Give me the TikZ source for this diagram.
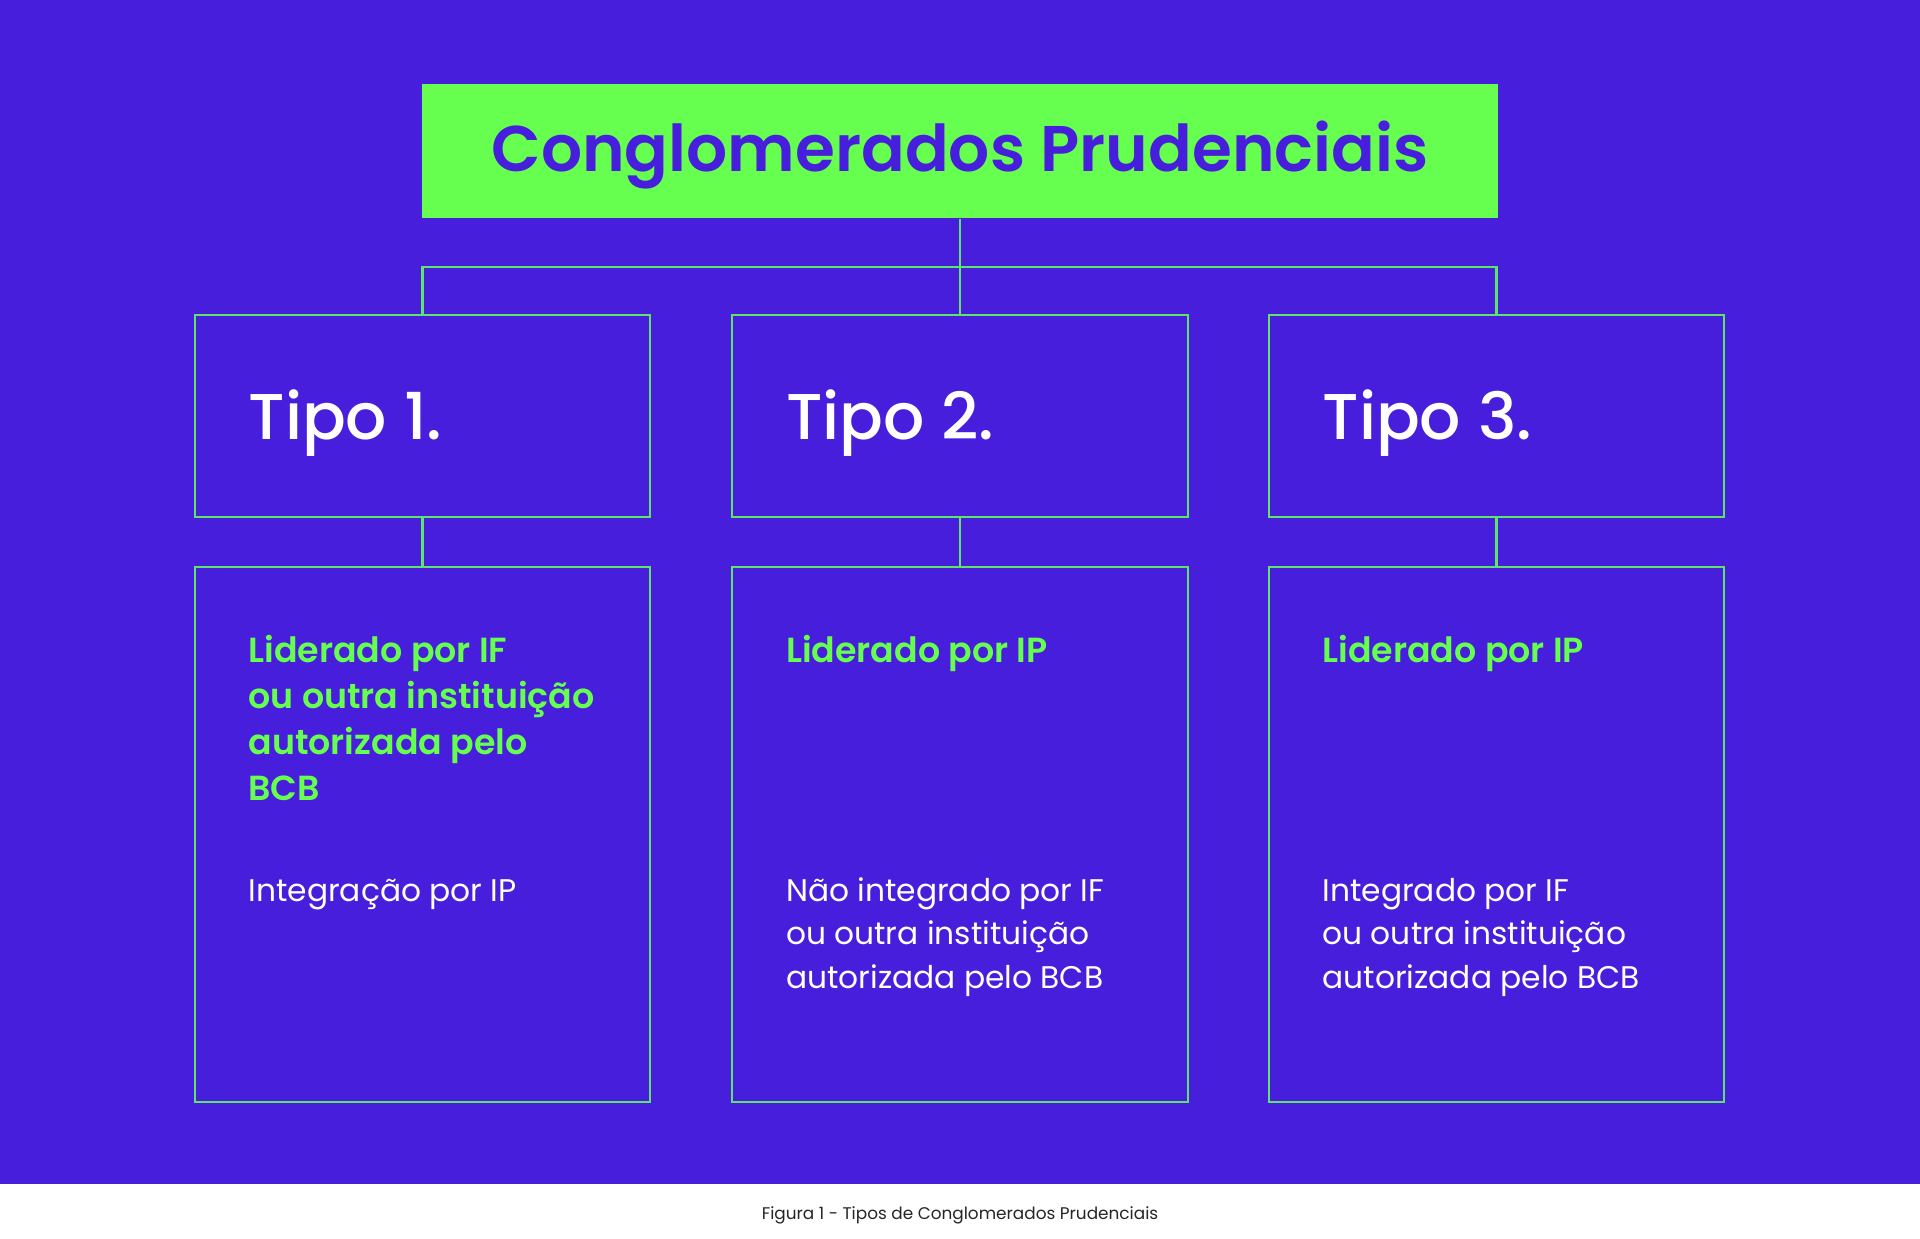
\documentclass[tikz,border=0pt]{standalone}
\usepackage{fontspec}
\setmainfont{Poppins}[BoldFont={Poppins SemiBold}]
\newfontfamily\tipofont{Poppins Medium}
\usetikzlibrary{positioning}
\definecolor{bgpurple}{HTML}{461EDB}
\definecolor{limegreen}{HTML}{66FF4F}
\definecolor{edgegreen}{HTML}{5CE46C}
\tikzset{tipobox/.style={draw=edgegreen,line width=0.6pt,minimum width=4.55cm,minimum height=2.02cm,inner sep=0pt}}
\tikzset{descbox/.style={draw=edgegreen,line width=0.6pt,minimum width=4.55cm,minimum height=5.35cm,inner sep=0pt}}
\tikzset{link/.style={draw=edgegreen,line width=0.6pt}}
\tikzset{tipotext/.style={anchor=base west,inner sep=0pt,text=white,font=\tipofont\fontsize{18.4}{22}\selectfont}}
\tikzset{leadtext/.style={anchor=base west,inner sep=0pt,align=left,text=limegreen,font=\bfseries\fontsize{9.9}{13.1}\selectfont}}
\tikzset{bodytext/.style={anchor=base west,inner sep=0pt,align=left,text=white,font=\fontsize{8.9}{12.4}\selectfont}}

\begin{document}
\begin{tikzpicture}[x=0.01cm,y=-0.01cm]
	% page and background
	\fill [white] (0,0) rectangle (1920,1238);
	\fill [bgpurple] (0,0) rectangle (1920,1184);

	\node [fill=limegreen,minimum width=10.76cm,minimum height=1.335cm,inner sep=0pt] (title) at (960,151) {};
	\node [anchor=base,inner sep=0pt,text=bgpurple,font=\bfseries\fontsize{18.35}{22}\selectfont] (titletext) at (960,171.5) {Conglomerados Prudenciais};
	\coordinate (hub) at (960,267);

	\node [tipobox] (tipo1) at (422.5,416) {};
	\node [tipobox] (tipo2) at (960,416) {};
	\node [tipobox] (tipo3) at (1496.5,416) {};
	\node [descbox] (desc1) at (422.5,834.5) {};
	\node [descbox] (desc2) at (960,834.5) {};
	\node [descbox] (desc3) at (1496.5,834.5) {};

	\draw [link] (title.south) -- (hub);
	\draw [link] (tipo1.north) |- (hub) -| (tipo3.north);
	\draw [link] (hub) -- (tipo2.north);
	\foreach \i in {1,2,3}
		\draw [link] (tipo\i.south) -- (desc\i.north);

	\node [tipotext] (tipolabel1) at ([shift={(54,126)}]tipo1.north west) {Tipo 1.};
	\node [tipotext] (tipolabel2) at ([shift={(54,126)}]tipo2.north west) {Tipo 2.};
	\node [tipotext] (tipolabel3) at ([shift={(54,126)}]tipo3.north west) {Tipo 3.};

	% multi-line nodes sit on the baseline of their last line
	\node [leadtext] (lead1) at ([shift={(54,235)}]desc1.north west) {Liderado por IF\\ou outra instituição\\autorizada pelo\\BCB};
	\node [leadtext] (lead2) at ([shift={(54,97)}]desc2.north west) {Liderado por IP};
	\node [leadtext] (lead3) at ([shift={(54,97)}]desc3.north west) {Liderado por IP};

	\node [bodytext] (body1) at ([shift={(54,335.5)}]desc1.north west) {Integração por IP};
	\node [bodytext] (body2) at ([shift={(54,422.5)}]desc2.north west) {Não integrado por IF\\ou outra instituição\\autorizada pelo BCB};
	\node [bodytext] (body3) at ([shift={(54,422.5)}]desc3.north west) {Integrado por IF\\ou outra instituição\\autorizada pelo BCB};

	\node [anchor=base,inner sep=0pt,text=black!85,font=\fontsize{4.8}{6}\selectfont] (caption) at (960,1219) {Figura 1 - Tipos de Conglomerados Prudenciais};
\end{tikzpicture}
\end{document}
